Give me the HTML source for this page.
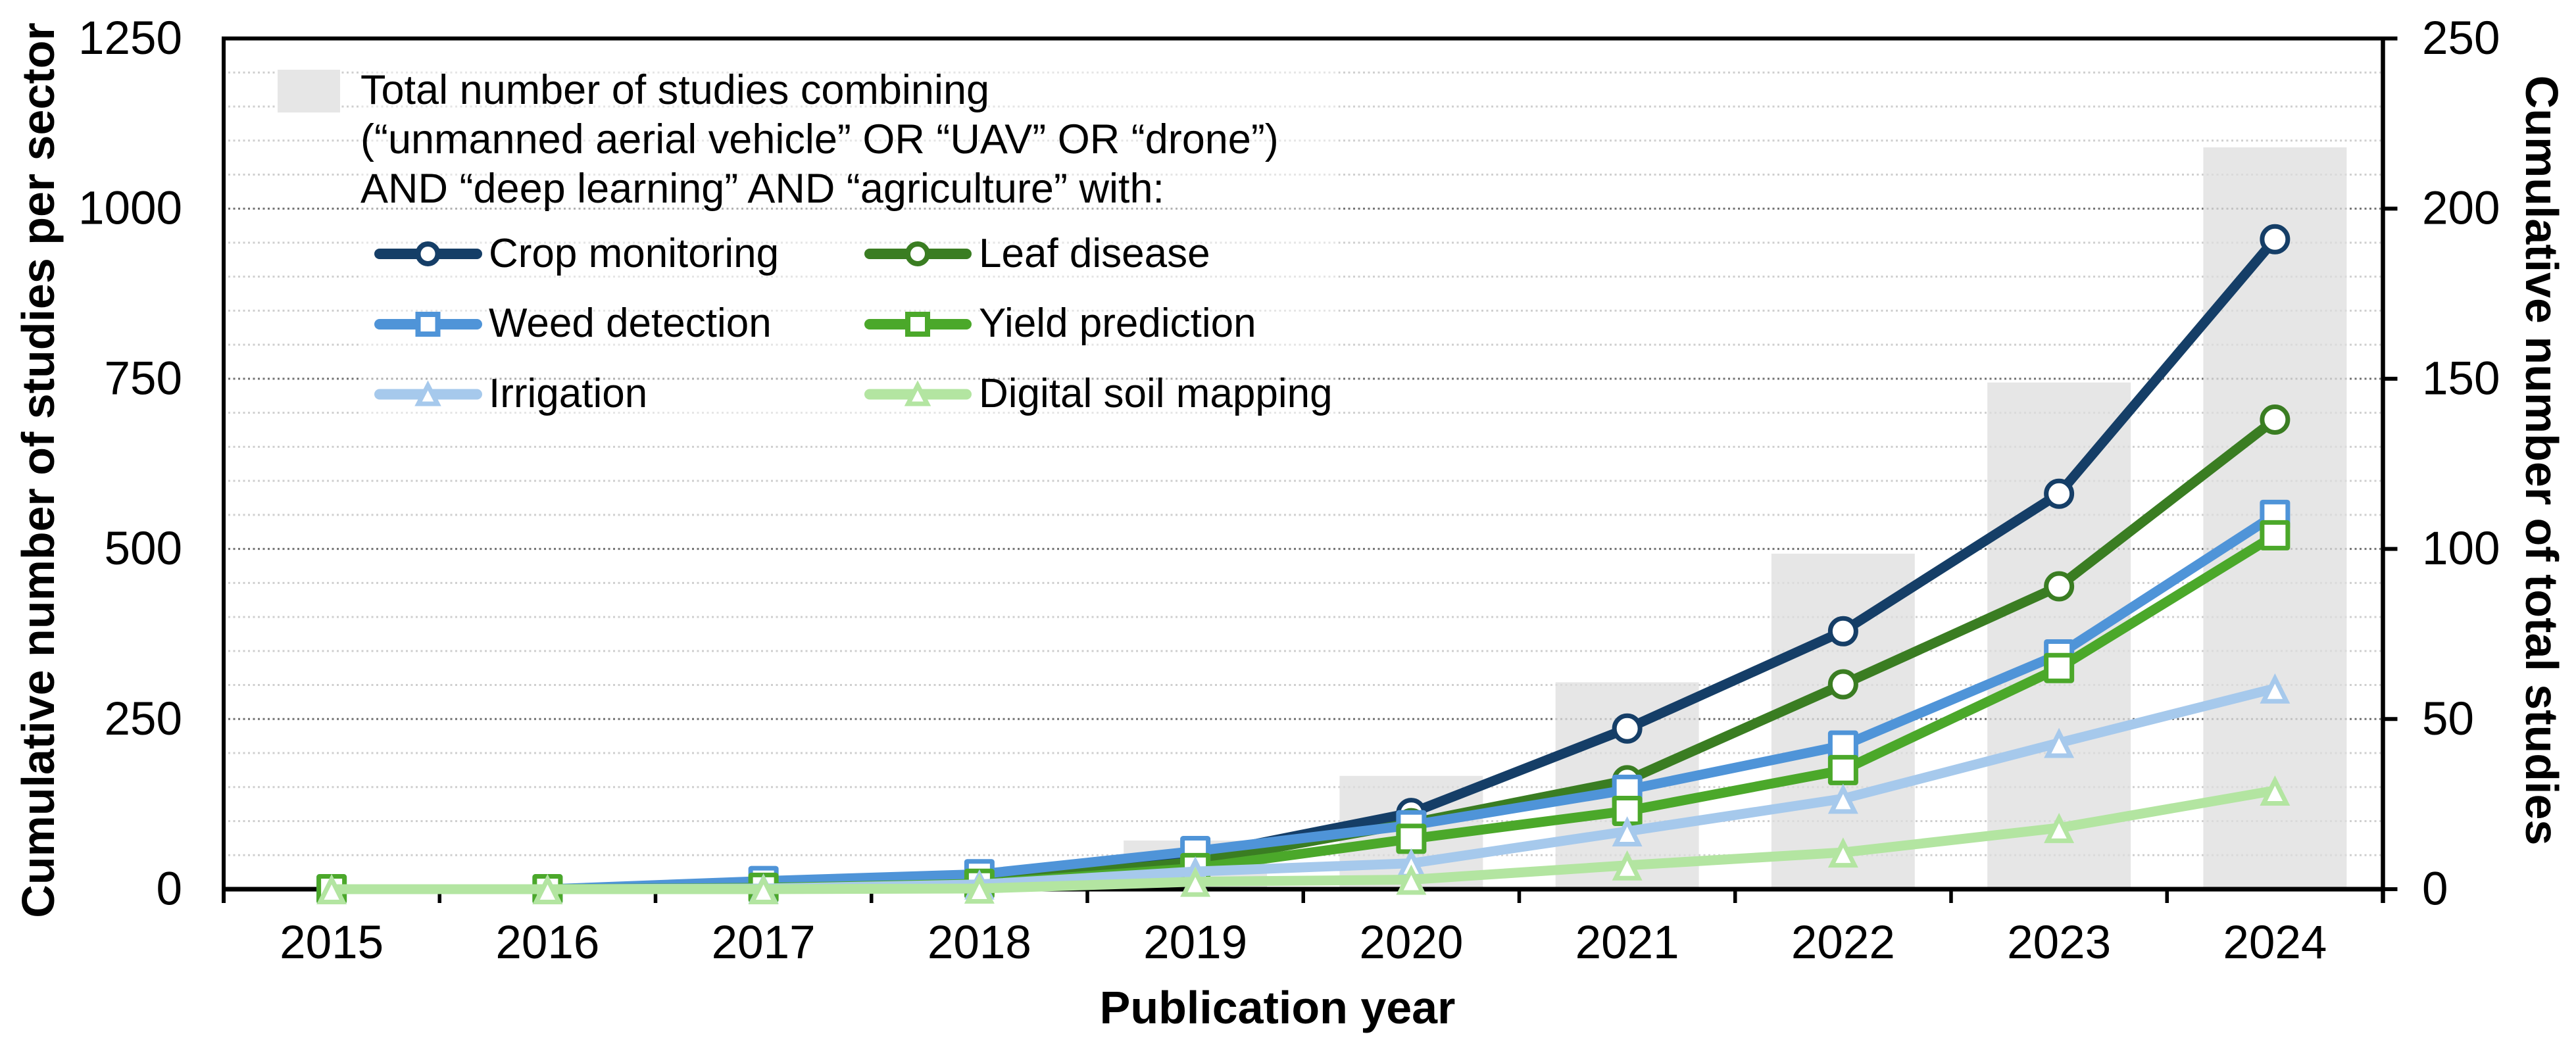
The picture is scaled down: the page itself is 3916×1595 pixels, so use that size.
<!DOCTYPE html>
<html lang="en">
<head>
<meta charset="utf-8">
<title>Cumulative studies per sector</title>
<style>
html,body{margin:0;padding:0;background:#fff;width:3916px;height:1595px;overflow:hidden}
svg{display:block}
text{font-family:"Liberation Sans",Arial,sans-serif;fill:#000}
.tick{font-size:71px}
.title{font-size:70px;font-weight:bold}
.leg{font-size:63px}
.leg-entry{font-size:62px}
</style>
</head>
<body>
<svg id="chart" width="3916" height="1595" viewBox="0 0 3916 1595" xmlns="http://www.w3.org/2000/svg">
  <rect x="0" y="0" width="3916" height="1595" fill="#fff"/>
  <g id="grid"></g>
  <g id="bars"></g>
  <rect x="545" y="90" width="1490" height="560" fill="#fff" fill-opacity="0.45"/>
  <g id="axes"></g>
  <g id="series"></g>
  <g id="labels"></g>

  <text class="title" text-anchor="middle" transform="translate(82 715) rotate(-90)">Cumulative number of studies per sector</text>
  <text class="title" text-anchor="middle" transform="translate(3840 700) rotate(90)">Cumulative number of total studies</text>
  <text class="title" text-anchor="middle" x="1942" y="1556">Publication year</text>

  <g>
    <rect x="422" y="106" width="95" height="65" fill="#e6e6e6"/>
    <text class="leg" x="548" y="158">Total number of studies combining</text>
    <text class="leg" x="548" y="233">(“unmanned aerial vehicle” OR “UAV” OR “drone”)</text>
    <text class="leg" x="548" y="308">AND “deep learning” AND “agriculture” with:</text>

    <g>
      <line x1="577" y1="386" x2="725" y2="386" stroke="#153e67" stroke-width="16" stroke-linecap="round"/>
      <circle cx="650.5" cy="386" r="15" fill="#fff" stroke="#153e67" stroke-width="8"/>
      <text class="leg-entry" x="743" y="406">Crop monitoring</text>
    </g>
    <g>
      <line x1="577" y1="493" x2="725" y2="493" stroke="#4f94d8" stroke-width="16" stroke-linecap="round"/>
      <rect x="635.5" y="478" width="30" height="30" fill="#fff" stroke="#4f94d8" stroke-width="8"/>
      <text class="leg-entry" x="743" y="512">Weed detection</text>
    </g>
    <g>
      <line x1="577" y1="599.5" x2="725" y2="599.5" stroke="#a6c9ec" stroke-width="16" stroke-linecap="round"/>
      <path d="M650.5 586 L665 614 L636 614 Z" fill="#fff" stroke="#a6c9ec" stroke-width="7" stroke-miterlimit="10"/>
      <text class="leg-entry" x="743" y="619">Irrigation</text>
    </g>
    <g>
      <line x1="1322" y1="386" x2="1469" y2="386" stroke="#3a7d22" stroke-width="16" stroke-linecap="round"/>
      <circle cx="1395" cy="386" r="15" fill="#fff" stroke="#3a7d22" stroke-width="8"/>
      <text class="leg-entry" x="1488" y="406">Leaf disease</text>
    </g>
    <g>
      <line x1="1322" y1="493" x2="1469" y2="493" stroke="#4ba82a" stroke-width="16" stroke-linecap="round"/>
      <rect x="1380" y="478" width="30" height="30" fill="#fff" stroke="#4ba82a" stroke-width="8"/>
      <text class="leg-entry" x="1488" y="512">Yield prediction</text>
    </g>
    <g>
      <line x1="1322" y1="599.5" x2="1469" y2="599.5" stroke="#b3e5a1" stroke-width="16" stroke-linecap="round"/>
      <path d="M1395 586 L1409.5 614 L1380.5 614 Z" fill="#fff" stroke="#b3e5a1" stroke-width="7" stroke-miterlimit="10"/>
      <text class="leg-entry" x="1488" y="619">Digital soil mapping</text>
    </g>
  </g>
</svg>
<script>
var years = [2015, 2016, 2017, 2018, 2019, 2020, 2021, 2022, 2023, 2024];
var totalStudies = [0, 0, 1, 3, 14.3, 33.3, 60.8, 98.6, 148.9, 218];
var cropMonitoring = [0, 0, 5, 14, 49, 112, 236, 379, 581, 955];
var leafDisease = [0, 0, 3, 10, 40, 97, 160, 301, 445, 690];
var weedDetection = [0, 0, 12, 22, 56, 94, 146, 211, 345, 550];
var yieldPrediction = [0, 0, 2, 8, 31, 74, 115, 175, 325, 520];
var irrigation = [0, 0, 1, 7, 26, 38, 85, 133, 215, 295];
var digitalSoilMapping = [0, 0, 0, 1, 11, 14, 35, 54, 90, 145];
var leftTicks = [0, 250, 500, 750, 1000, 1250];
var rightTicks = [0, 50, 100, 150, 200, 250];

var NS = 'http://www.w3.org/2000/svg';
var PLOT = { left: 340, right: 3622.5, top: 58.5, bottom: 1352 };
var LEFT_MAX = 1250;
var RIGHT_MAX = 250;

function xCat(i) {
  return PLOT.left + (i + 0.5) * (PLOT.right - PLOT.left) / years.length;
}
function xEdge(i) {
  return PLOT.left + i * (PLOT.right - PLOT.left) / years.length;
}
function yLeft(v) {
  return PLOT.bottom - v * (PLOT.bottom - PLOT.top) / LEFT_MAX;
}
function yRight(v) {
  return PLOT.bottom - v * (PLOT.bottom - PLOT.top) / RIGHT_MAX;
}
function make(tag, attrs, parent) {
  var el = document.createElementNS(NS, tag);
  for (var k in attrs) el.setAttribute(k, attrs[k]);
  parent.appendChild(el);
  return el;
}

var barsG = document.getElementById('bars');
var gridG = document.getElementById('grid');
var axesG = document.getElementById('axes');
var seriesG = document.getElementById('series');
var labelsG = document.getElementById('labels');

/* gridlines every 50 units on the left scale */
for (var g = 50; g < LEFT_MAX; g += 50) {
  var major = g % 250 === 0;
  var gl = make('line', {
    x1: 347, x2: 3619, y1: yLeft(g), y2: yLeft(g),
    stroke: major ? '#707070' : '#cfcfcf',
    'stroke-width': 3,
    'stroke-dasharray': '3 4.5'
  }, gridG);
  
  
}

/* bars sit over the gridlines and are slightly see-through */
totalStudies.forEach(function (v, i) {
  var top = yRight(v);
  var el = make('rect', { x: xCat(i) - 109, y: top, width: 218, height: Math.max(0, PLOT.bottom - top), fill: '#dedede', 'fill-opacity': 0.75 }, barsG);
  
  
});

/* axes */
var leftAxis = make('line', { x1: PLOT.left, x2: PLOT.left, y1: PLOT.top - 3, y2: PLOT.bottom + 21, stroke: '#000', 'stroke-width': 6 }, axesG);


var rightAxis = make('line', { x1: PLOT.right, x2: PLOT.right, y1: PLOT.top - 3, y2: PLOT.bottom + 21, stroke: '#000', 'stroke-width': 6.5 }, axesG);


var topAxis = make('line', { x1: PLOT.left, x2: PLOT.right, y1: PLOT.top, y2: PLOT.top, stroke: '#000', 'stroke-width': 6 }, axesG);


var bottomAxis = make('line', { x1: PLOT.left, x2: PLOT.right, y1: PLOT.bottom, y2: PLOT.bottom, stroke: '#000', 'stroke-width': 7 }, axesG);



for (var e = 1; e < years.length; e++) {
  var xt = make('line', { x1: xEdge(e), x2: xEdge(e), y1: PLOT.bottom, y2: PLOT.bottom + 21, stroke: '#000', 'stroke-width': 5.5 }, axesG);
  
  
}

rightTicks.forEach(function (v) {
  var rt = make('line', { x1: PLOT.right, x2: PLOT.right + 22, y1: yRight(v), y2: yRight(v), stroke: '#000', 'stroke-width': 6 }, axesG);
  
  
  var rl = make('text', { x: 3682, y: yRight(v) + 23.5, 'class': 'tick', 'text-anchor': 'start' }, labelsG);
  rl.textContent = v;
  
  
});

leftTicks.forEach(function (v) {
  var ll = make('text', { x: 277, y: yLeft(v) + 23.5, 'class': 'tick', 'text-anchor': 'end' }, labelsG);
  ll.textContent = v;
  
  
});

years.forEach(function (yr, i) {
  var xl = make('text', { x: xCat(i), y: 1457, 'class': 'tick', 'text-anchor': 'middle' }, labelsG);
  xl.textContent = yr;
  
  
});

/* series */
function marker(kind, cx, cy, color, parent) {
  var m;
  if (kind === 'circle') {
    m = make('circle', { cx: cx, cy: cy, r: 19.5, fill: '#fff', stroke: color, 'stroke-width': 7 }, parent);
  } else if (kind === 'square') {
    m = make('rect', { x: cx - 19.5, y: cy - 19.5, width: 39, height: 39, rx: 1, fill: '#fff', stroke: color, 'stroke-width': 7 }, parent);
  } else {
    m = make('path', {
      d: 'M' + cx + ' ' + (cy - 15.1) + ' L' + (cx + 17.3) + ' ' + (cy + 19.5) + ' L' + (cx - 17.3) + ' ' + (cy + 19.5) + ' Z',
      fill: '#fff', stroke: color, 'stroke-width': 7, 'stroke-miterlimit': 10
    }, parent);
  }
  return m;
}

function drawSeries(name, values, color, kind) {
  var g = make('g', {}, seriesG);
  
  
  var pts = values.map(function (v, i) { return xCat(i) + ',' + yLeft(v); }).join(' ');
  var line = make('polyline', { points: pts, fill: 'none', stroke: color, 'stroke-width': 15, 'stroke-linejoin': 'round' }, g);
  
  
  values.forEach(function (v, i) {
    var m = marker(kind, xCat(i), yLeft(v), color, g);
    
    
  });
}

drawSeries('crop-monitoring', cropMonitoring, '#153e67', 'circle');
drawSeries('leaf-disease', leafDisease, '#3a7d22', 'circle');
drawSeries('weed-detection', weedDetection, '#4f94d8', 'square');
drawSeries('yield-prediction', yieldPrediction, '#4ba82a', 'square');
drawSeries('irrigation', irrigation, '#a6c9ec', 'triangle');
drawSeries('digital-soil-mapping', digitalSoilMapping, '#b3e5a1', 'triangle');
</script>
</body>
</html>
